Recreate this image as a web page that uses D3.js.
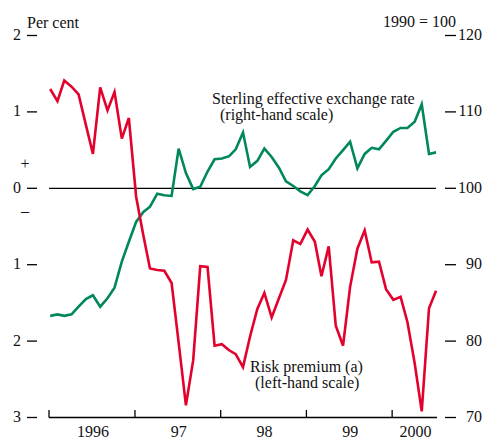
<!DOCTYPE html>
<html lang="en">
<head>
    <meta charset="UTF-8">
    <title>Risk premium and sterling</title>
    <script src="https://d3js.org/d3.v7.min.js"></script>
    <style>
        body { margin: 0; background: #fff; }
        svg text { font-family: "Liberation Serif", "Times New Roman", serif; font-size: 16px; fill: #111; }
    </style>
</head>
<body>
<svg id="chart" width="485" height="439"></svg>

<script>
    // monthly observations, Jan 1996 - Jul 2000
    var riskPremium = [
        1.30, 1.14, 1.41, 1.33, 1.23, 0.83, 0.45, 1.32, 1.02, 1.26, 0.65, 0.92,
        -0.11, -0.62, -1.05, -1.07, -1.08, -1.24, -2.02, -2.84, -2.25, -1.02, -1.03, -2.06,
        -2.04, -2.12, -2.17, -2.34, -1.94, -1.58, -1.37, -1.69, -1.44, -1.20, -0.68, -0.73,
        -0.54, -0.70, -1.15, -0.76, -1.80, -2.06, -1.29, -0.79, -0.55, -0.97, -0.96, -1.32,
        -1.46, -1.42, -1.75, -2.29, -2.92, -1.57, -1.34
    ];
    var sterlingERI = [
        83.3, 83.5, 83.3, 83.5, 84.5, 85.5, 86.0, 84.5, 85.6, 87.0, 90.4, 93.0,
        95.6, 96.9, 97.6, 99.3, 99.1, 99.0, 105.2, 102.0, 99.9, 100.2, 102.2, 103.8,
        103.9, 104.2, 105.1, 107.3, 102.8, 103.6, 105.2, 104.1, 102.7, 100.9, 100.3, 99.6,
        99.1, 100.3, 101.7, 102.5, 103.9, 105.0, 106.1, 102.6, 104.5, 105.3, 105.1, 106.2,
        107.4, 107.9, 107.9, 108.7, 111.0, 104.5, 104.7
    ];
    var years = [1996, 1997, 1998, 1999, 2000];
    var yearLabels = ["1996", "97", "98", "99", "2000"];
    var leftTicks = [2, 1, 0, -1, -2, -3];
    var leftTickLabels = ["2", "1", "0", "1", "2", "3"];
    var rightTicks = [120, 110, 100, 90, 80, 70];

    var svg = d3.select("#chart");

    var start = new Date(1996, 0, 1), end = new Date(2000, 6, 10);
    var x = d3.scaleTime().domain([start, end]).range([49, 437]);
    var yL = d3.scaleLinear().domain([-3, 2]).range([417.5, 35.5]);
    var yR = d3.scaleLinear().domain([70, 120]).range([417.5, 35.5]);

    function monthDate(i) {
        return new Date(1996, i, 6);
    }

    // zero line
    svg.append("line")
        .attr("x1", x(start)).attr("x2", 436)
        .attr("y1", yL(0)).attr("y2", yL(0))
        .attr("stroke", "#000").attr("stroke-width", 1.2);

    // left scale: dashes and labels
    var lg = svg.append("g");
    leftTicks.forEach(function(t, i){
        lg.append("line")
            .attr("x1", 27).attr("x2", 37)
            .attr("y1", yL(t)).attr("y2", yL(t))
            .attr("stroke", "#000").attr("stroke-width", 1.3);
        lg.append("text")
            .attr("x", 21).attr("y", yL(t) + 4.5)
            .attr("text-anchor", "end")
            .text(leftTickLabels[i]);
    });
    lg.append("text").attr("x", 25).attr("y", yL(0) - 19).attr("text-anchor", "middle").text("+");
    lg.append("text").attr("x", 25).attr("y", yL(0) + 28).attr("text-anchor", "middle").text("\u2013");

    // right scale
    var rg = svg.append("g");
    rightTicks.forEach(function(t){
        rg.append("line")
            .attr("x1", 445).attr("x2", 456)
            .attr("y1", yR(t)).attr("y2", yR(t))
            .attr("stroke", "#000").attr("stroke-width", 1.3);
        rg.append("text")
            .attr("x", 482).attr("y", yR(t) + 4.5)
            .attr("text-anchor", "end")
            .text(t);
    });

    svg.append("text").attr("x", 27).attr("y", 28).text("Per cent");
    svg.append("text").attr("x", 456).attr("y", 27).attr("text-anchor", "end").text("1990 = 100");

    // x axis
    var xg = svg.append("g");
    xg.append("line")
        .attr("x1", x(start)).attr("x2", x(end))
        .attr("y1", 417.5).attr("y2", 417.5)
        .attr("stroke", "#000").attr("stroke-width", 1.3);
    years.forEach(function(yr, i){
        var ys = new Date(yr, 0, 1);
        var ye = d3.min([new Date(yr + 1, 0, 1), end]);
        xg.append("line")
            .attr("x1", x(ys)).attr("x2", x(ys))
            .attr("y1", 417.5).attr("y2", 410)
            .attr("stroke", "#000").attr("stroke-width", 1.3);
        xg.append("text")
            .attr("x", (x(ys) + x(ye)) / 2 + 1)
            .attr("y", 437)
            .attr("text-anchor", "middle")
            .text(yearLabels[i]);
    });

    // series
    var eriLine = d3.line()
        .x(function(d, i){ return x(monthDate(i)); })
        .y(function(d){ return yR(d); });
    var riskLine = d3.line()
        .x(function(d, i){ return x(monthDate(i)); })
        .y(function(d){ return yL(d); });

    svg.append("path")
        .datum(sterlingERI)
        .attr("d", eriLine)
        .attr("fill", "none")
        .attr("stroke", "#00875d")
        .attr("stroke-width", 2.6)
        .attr("stroke-linejoin", "miter");

    svg.append("path")
        .datum(riskPremium)
        .attr("d", riskLine)
        .attr("fill", "none")
        .attr("stroke", "#e3022d")
        .attr("stroke-width", 2.6)
        .attr("stroke-linejoin", "miter");

    // annotations
    svg.append("text").attr("x", 212).attr("y", 104).text("Sterling effective exchange rate");
    svg.append("text").attr("x", 220).attr("y", 120).text("(right-hand scale)");
    svg.append("text").attr("x", 250).attr("y", 372).text("Risk premium (a)");
    svg.append("text").attr("x", 255).attr("y", 388).text("(left-hand scale)");
</script>
</body>
</html>
